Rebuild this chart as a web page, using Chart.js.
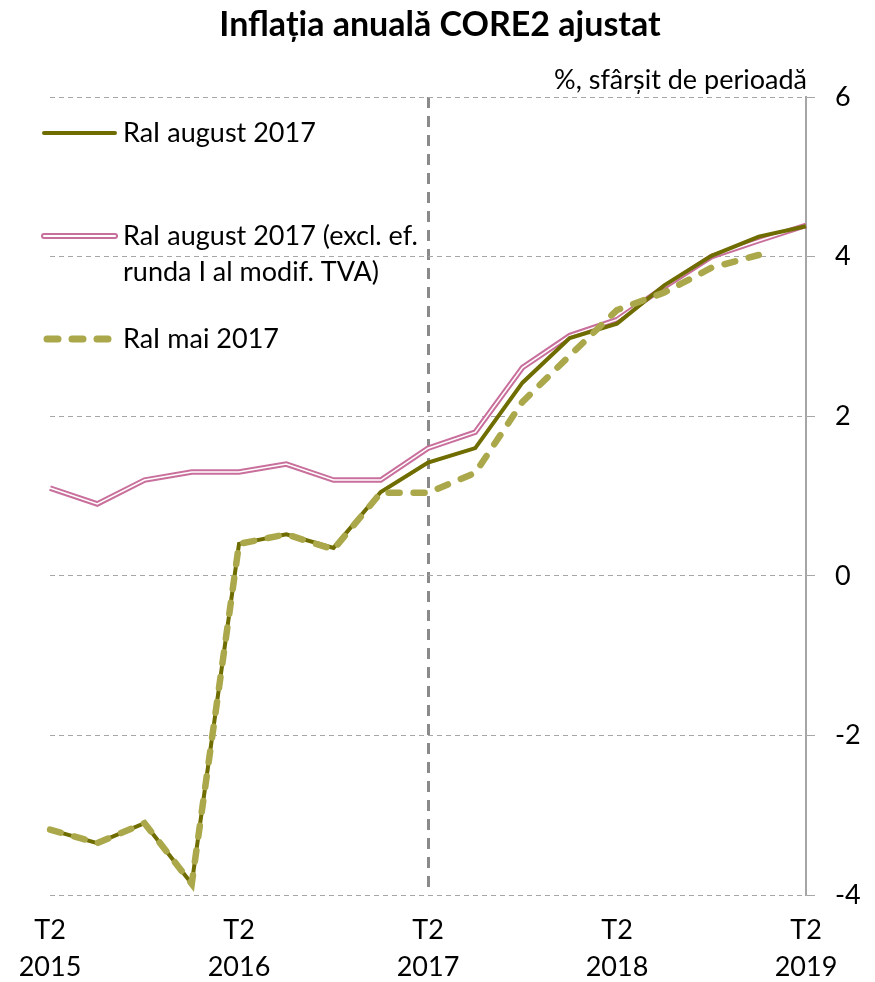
<!DOCTYPE html>
<html>
<head>
<meta charset="utf-8">
<script src="https://cdn.jsdelivr.net/npm/chart.js@4.4.1/dist/chart.umd.min.js"></script>
<style>
  body { margin: 0; background: #fff; }
  #wrap { width: 875px; height: 982px; position: relative; }
</style>
</head>
<body>
<div id="wrap"><canvas id="chart"></canvas></div>
<script>
// Quarterly categories, T2 2015 .. T2 2019
const quarters = [
    'T2 2015', 'T3 2015', 'T4 2015', 'T1 2016',
    'T2 2016', 'T3 2016', 'T4 2016', 'T1 2017',
    'T2 2017', 'T3 2017', 'T4 2017', 'T1 2018',
    'T2 2018', 'T3 2018', 'T4 2018', 'T1 2019',
    'T2 2019'
];
const markerQuarter = 'T2 2017';

const raiAugust = [-3.18, -3.35, -3.10, -3.86, 0.40, 0.52, 0.35, 1.05, 1.42, 1.60, 2.42, 2.98, 3.16, 3.64, 4.01, 4.25, 4.38];
const raiAugustExcl = [1.10, 0.90, 1.20, 1.30, 1.30, 1.40, 1.20, 1.20, 1.60, 1.80, 2.61, 3.01, 3.21, 3.62, 4.00, 4.20, 4.39];
const raiMai = [-3.18, -3.35, -3.10, -3.86, 0.40, 0.52, 0.33, 1.04, 1.04, 1.29, 2.18, 2.76, 3.33, 3.55, 3.86, 4.02, null];

const yTicks = [-4, -2, 0, 2, 4, 6];

const title = 'Inflația anuală CORE2 ajustat';
const unitLabel = '%, sfârșit de perioadă';
const legendItems = [
    { text: ['RaI august 2017'], style: 'solid' },
    { text: ['RaI august 2017 (excl. ef.', 'runda I al modif. TVA)'], style: 'double' },
    { text: ['RaI mai 2017'], style: 'dashed' }
];

const OLIVE = '#6f6d00';
const OLIVE_LIGHT = '#aaa84a';
const PINK = '#c96f9c';
const FONT = 'Lato, "Open Sans", sans-serif';

// title, unit label and legend drawn by hand, Excel-style
const extrasPlugin = {
    id: 'extras',
    afterDraw(chart) {
        const ctx = chart.ctx;
        const area = chart.chartArea;
        ctx.save();
        ctx.fillStyle = '#000';
        ctx.textBaseline = 'middle';

        ctx.font = 'bold 34px ' + FONT;
        ctx.textAlign = 'center';
        ctx.fillText(title, 440, 25);

        ctx.font = '27px ' + FONT;
        ctx.textAlign = 'right';
        ctx.fillText(unitLabel, area.right + 1, 80);

        ctx.textAlign = 'left';
        let y = 133;
        legendItems.forEach(item => {
            const x1 = 44, x2 = 115;
            ctx.beginPath();
            ctx.moveTo(x1, y);
            ctx.lineTo(x2, y);
            if (item.style === 'solid') {
                ctx.strokeStyle = OLIVE;
                ctx.lineWidth = 4;
                ctx.lineCap = 'round';
                ctx.stroke();
            } else if (item.style === 'double') {
                ctx.strokeStyle = PINK;
                ctx.lineWidth = 6;
                ctx.lineCap = 'round';
                ctx.stroke();
                ctx.strokeStyle = '#fff';
                ctx.lineWidth = 2;
                ctx.stroke();
            } else {
                ctx.strokeStyle = OLIVE_LIGHT;
                ctx.lineWidth = 7;
                ctx.lineCap = 'round';
                ctx.setLineDash([11, 14]);
                ctx.lineDashOffset = -3;
                ctx.stroke();
                ctx.setLineDash([]);
            }
            item.text.forEach((line, i) => {
                ctx.fillText(line, 123, y + i * 36);
            });
            y += 103;
        });
        ctx.restore();
    }
};

const ctx = document.getElementById('chart').getContext('2d');
new Chart(ctx, {
    type: 'line',
    data: {
        labels: quarters,
        datasets: [
            {
                label: 'RaI mai 2017',
                data: raiMai,
                borderColor: OLIVE_LIGHT,
                borderWidth: 6.5,
                borderDash: [11, 14],
                borderCapStyle: 'round',
                order: 0
            },
            {
                label: 'RaI august 2017',
                data: raiAugust,
                borderColor: OLIVE,
                borderWidth: 4,
                order: 1
            },
            {
                label: 'core',
                data: raiAugustExcl,
                borderColor: '#ffffff',
                borderWidth: 1.6,
                order: 2
            },
            {
                label: 'RaI august 2017 (excl. ef. runda I al modif. TVA)',
                data: raiAugustExcl,
                borderColor: PINK,
                borderWidth: 5.5,
                order: 3
            }
        ]
    },
    options: {
        responsive: true,
        maintainAspectRatio: false,
        animation: false,
        elements: {
            point: { radius: 0 },
            line: { tension: 0, borderJoinStyle: 'miter' }
        },
        layout: { padding: { left: 50, right: 0, top: 97, bottom: 0 } },
        plugins: {
            legend: { display: false },
            tooltip: { enabled: false },
            title: { display: false }
        },
        scales: {
            x: {
                offset: false,
                grid: {
                    drawTicks: false,
                    color: c => (quarters[c.index] === markerQuarter ? '#8a8a8a' : 'rgba(0,0,0,0)'),
                    lineWidth: 3
                },
                border: { display: false, dash: [11, 8] },
                ticks: {
                    autoSkip: false,
                    maxRotation: 0,
                    color: '#000',
                    font: { family: FONT, size: 27, lineHeight: 1.4 },
                    padding: 16,
                    callback: (v, i) => {
                        const parts = quarters[i].split(' ');
                        return parts[0] === 'T2' ? parts : '';
                    }
                },
                afterFit: s => { s.height = 87; }
            },
            y: {
                position: 'right',
                min: -4,
                max: 6,
                afterBuildTicks: s => { s.ticks = yTicks.map(v => ({ value: v })); },
                grid: {
                    color: '#a6a6a6',
                    lineWidth: 1,
                    tickLength: 9
                },
                border: { display: true, color: '#a6a6a6', width: 2, dash: [5, 4] },
                ticks: {
                    color: '#000',
                    font: { family: FONT, size: 27 },
                    padding: 20
                },
                afterFit: s => { s.width = 69; }
            }
        }
    },
    plugins: [extrasPlugin]
});
</script>
</body>
</html>
